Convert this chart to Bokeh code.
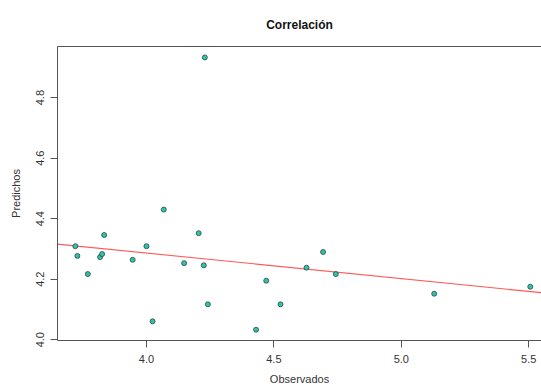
import numpy as np
from bokeh.plotting import figure
from bokeh.models import LinearAxis, Range1d, FixedTicker, Title, PrintfTickFormatter
from bokeh.embed import file_html
from bokeh.resources import INLINE

# Data
observados = [3.721, 3.729, 3.770, 3.818, 3.826, 3.834, 3.946, 4.000, 4.024, 4.068,
              4.148, 4.205, 4.225, 4.241, 4.430, 4.470, 4.526, 4.628, 4.693, 4.743,
              5.129, 5.506, 4.229]
predichos = [4.309, 4.277, 4.217, 4.273, 4.283, 4.346, 4.264, 4.309, 4.061, 4.430,
             4.253, 4.352, 4.246, 4.117, 4.033, 4.195, 4.117, 4.238, 4.290, 4.217,
             4.152, 4.175, 4.933]
x_ticks = [4.0, 4.5, 5.0, 5.5]
y_ticks = [4.0, 4.2, 4.4, 4.6, 4.8]
title_text = "Correlación"
x_label = "Observados"
y_label = "Predichos"

slope, intercept = np.polyfit(observados, predichos, 1)

FONT = "Liberation Sans"
AX = "#555555"
TXT = "#333333"

x0, x1 = 3.651, 5.550
y0, y1 = 3.9974, 4.969

p = figure(width=541, height=387, output_backend="svg", toolbar_location=None,
           x_range=Range1d(x0, x1), y_range=Range1d(y0, y1),
           min_border_left=57, min_border_right=0, min_border_top=46, min_border_bottom=47,
           x_axis_type=None, y_axis_type=None)
p.grid.visible = False
p.outline_line_color = None
p.background_fill_color = "white"
p.border_fill_color = "white"

p.title = Title(text=title_text, align="center", text_font=FONT,
                text_font_size="12px", text_font_style="bold", text_color="#111111",
                vertical_align="middle", standoff=28)

xa = LinearAxis(ticker=FixedTicker(ticks=x_ticks), axis_label=x_label,
                formatter=PrintfTickFormatter(format="%.1f"))
ya = LinearAxis(ticker=FixedTicker(ticks=y_ticks), axis_label=y_label,
                formatter=PrintfTickFormatter(format="%.1f"))
for ax in (xa, ya):
    ax.axis_line_color = AX
    ax.major_tick_line_color = AX
    ax.major_tick_out = 7
    ax.major_tick_in = 0
    ax.minor_tick_line_color = None
    ax.major_label_text_font = FONT
    ax.major_label_text_font_size = "11px"
    ax.major_label_text_color = TXT
    ax.axis_label_text_font = FONT
    ax.axis_label_text_font_size = "11px"
    ax.axis_label_text_font_style = "normal"
    ax.axis_label_text_color = TXT
xa.major_label_standoff = 7
xa.axis_label_standoff = 7
ya.major_label_standoff = 6
ya.major_label_orientation = "vertical"
ya.axis_label_standoff = 12
p.add_layout(xa, "below")
p.add_layout(ya, "left")

top = LinearAxis(ticker=FixedTicker(ticks=[]), major_label_text_font_size="0px",
                 axis_line_color=AX, major_tick_line_color=None, minor_tick_line_color=None)
p.add_layout(top, "above")

xs = [x0, x1]
p.line(xs, [intercept + slope * v for v in xs], line_color="#ff5a5a", line_width=1.1)

p.scatter(observados, predichos, size=5, fill_color="#30c2aa",
          line_color="#2a4a44", line_width=0.8)

open("out.html", "w").write(file_html(p, INLINE))
